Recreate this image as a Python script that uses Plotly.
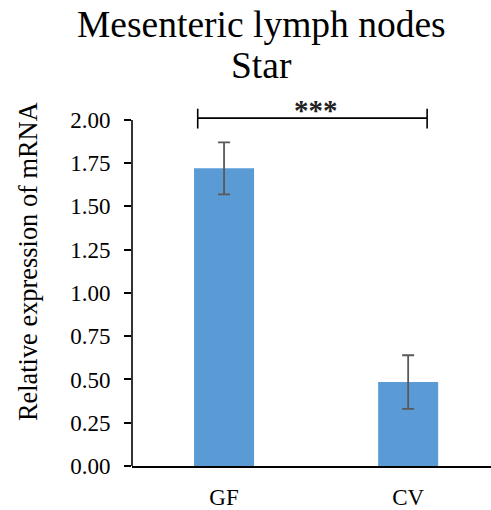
import plotly.graph_objects as go

categories = ["GF", "CV"]
values = [1.72, 0.485]
errors = [0.15, 0.155]
tick_vals = [0, 0.25, 0.5, 0.75, 1.0, 1.25, 1.5, 1.75, 2.0]
tick_text = ["0.00", "0.25", "0.50", "0.75", "1.00", "1.25", "1.50", "1.75", "2.00"]
title_lines = ["Mesenteric lymph nodes", "Star"]
y_title = "Relative expression of mRNA"
sig_label = "***"

FONT = "'Times New Roman', 'Liberation Serif', Times, 'DejaVu Serif', serif"
W, H = 491, 510
ML, MR, MT, MB = 132, 0, 100, 42

fig = go.Figure()
fig.add_trace(go.Bar(
    x=[0, 1], y=values, width=0.326,
    marker=dict(color="#5B9BD5", line=dict(width=0)),
    error_y=dict(type="data", array=errors, visible=True, color="#595959",
                 thickness=1.8, width=6),
))

# y-axis line (only up to 2.00)
fig.add_shape(type="line", xref="paper", yref="y", x0=0, x1=0, y0=0, y1=2.0,
              line=dict(color="black", width=1.6))
# significance bracket
bx0, bx1, by = -0.143, 1.103, 2.01
fig.add_shape(type="line", xref="x", yref="y", x0=bx0, x1=bx1, y0=by, y1=by,
              line=dict(color="black", width=1.6))
fig.add_shape(type="line", xref="x", yref="y", x0=bx0, x1=bx0, y0=1.95, y1=2.065,
              line=dict(color="black", width=1.6))
fig.add_shape(type="line", xref="x", yref="y", x0=bx1, x1=bx1, y0=1.95, y1=2.065,
              line=dict(color="black", width=1.6))
fig.add_annotation(x=0.5, y=2.06, xref="x", yref="y", text="<b>" + sig_label + "</b>",
                   showarrow=False, font=dict(family=FONT, size=29, color="#222"),
                   yanchor="middle")

# titles
pw = W - ML - MR
ph = H - MT - MB
def px_x(px):
    return (px - ML) / pw
def px_y(py):
    return (H - MB - py) / ph
fig.add_annotation(x=px_x(261), y=px_y(24), xref="paper", yref="paper",
                   text=title_lines[0], showarrow=False, xanchor="center", yanchor="middle",
                   font=dict(family=FONT, size=37.5, color="black"))
fig.add_annotation(x=px_x(261), y=px_y(65), xref="paper", yref="paper",
                   text=title_lines[1], showarrow=False, xanchor="center", yanchor="middle",
                   font=dict(family=FONT, size=37.5, color="black"))
fig.add_annotation(x=px_x(28), y=px_y(263), xref="paper", yref="paper",
                   text=y_title, showarrow=False, textangle=-90, xanchor="center", yanchor="middle",
                   font=dict(family=FONT, size=26.4, color="black"))

fig.update_layout(
    width=W, height=H, margin=dict(l=ML, r=MR, t=MT, b=MB),
    paper_bgcolor="white", plot_bgcolor="white", showlegend=False,
    font=dict(family=FONT, color="black"),
    xaxis=dict(range=[-0.5, 1.45], tickvals=[0, 1], ticktext=categories,
               showline=True, linecolor="black", linewidth=1.6, ticks="",
               showgrid=False, zeroline=False, tickfont=dict(family=FONT, size=23),
               ticklabelstandoff=10),
    yaxis=dict(range=[0, 2.115], tickvals=tick_vals, ticktext=tick_text,
               showline=False, ticks="outside", ticklen=7, tickwidth=1.6, tickcolor="black",
               showgrid=False, zeroline=False, tickfont=dict(family=FONT, size=23),
               ticklabelstandoff=9),
)
fig.write_html("out.html")
